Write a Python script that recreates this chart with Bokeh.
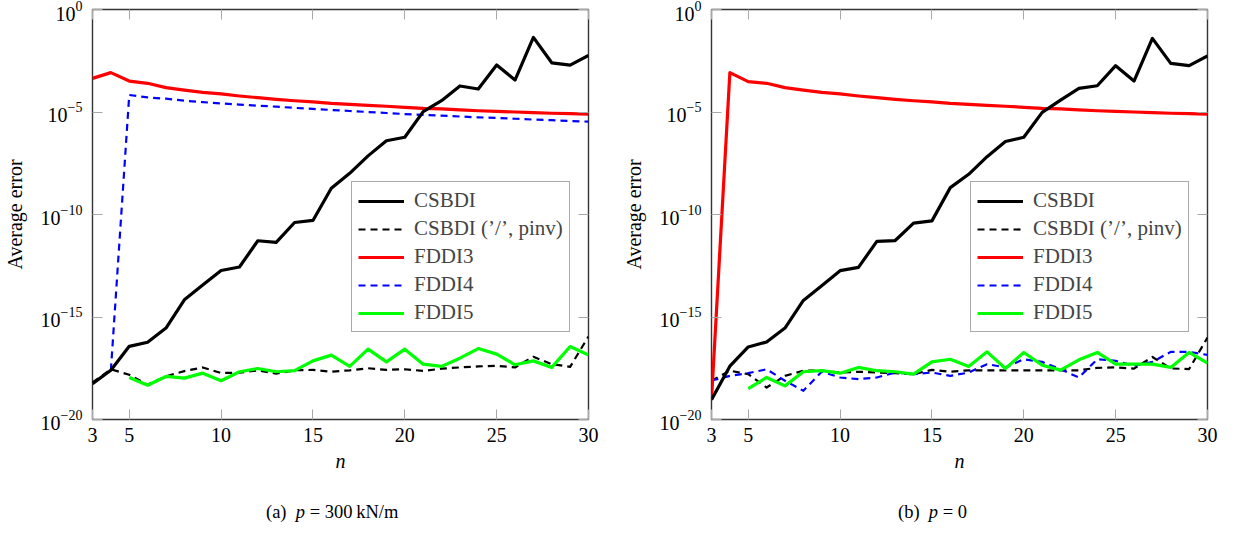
import numpy as np
from bokeh.plotting import figure
from bokeh.layouts import row, column
from bokeh.models import (LinearAxis, LogAxis, FixedTicker, Legend, LegendItem,
                          CustomJSTickFormatter, Range1d, Div)
from bokeh.embed import file_html
from bokeh.resources import INLINE

# ---------------- data (log10 of average error) -------------
n_all = list(range(3, 31))
n_from4 = list(range(4, 31))
n_from5 = list(range(5, 31))
x_ticks = [3, 5, 10, 15, 20, 25, 30]
y_ticks = [1e-20, 1e-15, 1e-10, 1e-5, 1.0]

series_names = ["CSBDI", "CSBDI (\u2019/\u2019, pinv)", "FDDI3", "FDDI4", "FDDI5"]

# (a) p = 300 kN/m
a_csbdi = [-18.25, -17.6, -16.43, -16.23, -15.54, -14.16, -13.44, -12.73, -12.56, -11.28,
           -11.36, -10.39, -10.29, -8.72, -7.99, -7.14, -6.40, -6.23, -4.98, -4.45,
           -3.73, -3.88, -2.71, -3.44, -1.36, -2.60, -2.71, -2.24]
a_csbdi_pinv = [-18.2, -17.55, -17.82, -18.3, -17.89, -17.64, -17.46, -17.73, -17.72, -17.6,
                -17.76, -17.6, -17.58, -17.67, -17.6, -17.5, -17.58, -17.55, -17.63, -17.52,
                -17.46, -17.41, -17.38, -17.46, -16.94, -17.3, -17.43, -15.95]
a_fddi3 = [-3.36, -3.08, -3.49, -3.60, -3.81, -3.93, -4.04, -4.12, -4.22, -4.30,
           -4.38, -4.45, -4.51, -4.58, -4.63, -4.68, -4.72, -4.77, -4.82, -4.85,
           -4.90, -4.94, -4.97, -5.00, -5.03, -5.06, -5.08, -5.11]
a_fddi4 = [-17.6, -4.17, -4.29, -4.35, -4.45, -4.52, -4.58, -4.64, -4.69, -4.74,
           -4.80, -4.85, -4.90, -4.95, -5.00, -5.05, -5.10, -5.14, -5.18, -5.22,
           -5.26, -5.29, -5.33, -5.37, -5.40, -5.44, -5.47]
a_fddi5 = [-17.95, -18.33, -17.90, -17.98, -17.74, -18.11, -17.67, -17.51, -17.67, -17.62,
           -17.14, -16.86, -17.41, -16.57, -17.19, -16.57, -17.30, -17.41, -17.01, -16.54,
           -16.81, -17.33, -17.14, -17.46, -16.44, -16.86]

# (b) p = 0
b_csbdi = [-19.03, -17.4, -16.46, -16.22, -15.54, -14.19, -13.47, -12.74, -12.58, -11.31,
           -11.27, -10.42, -10.31, -8.69, -8.04, -7.18, -6.44, -6.23, -5.02, -4.42,
           -3.85, -3.72, -2.74, -3.49, -1.41, -2.63, -2.74, -2.27]
b_csbdi_pinv = [-18.11, -17.62, -17.79, -18.44, -17.87, -17.62, -17.62, -17.71, -17.67, -17.71,
                -17.74, -17.79, -17.58, -17.67, -17.6, -17.6, -17.6, -17.6, -17.6, -17.6,
                -17.6, -17.48, -17.46, -17.52, -16.95, -17.51, -17.54, -16.0]
b_fddi3 = [-19.03, -3.08, -3.52, -3.60, -3.81, -3.93, -4.04, -4.12, -4.22, -4.30,
           -4.38, -4.45, -4.51, -4.58, -4.63, -4.68, -4.72, -4.77, -4.82, -4.85,
           -4.90, -4.94, -4.97, -5.00, -5.03, -5.06, -5.08, -5.11]
b_fddi4 = [-18.1, -17.87, -17.74, -17.55, -18.11, -18.60, -17.67, -17.95, -18.03, -17.95,
           -17.71, -17.79, -17.71, -17.87, -17.71, -17.30, -17.46, -17.06, -17.19, -17.55,
           -17.95, -17.06, -17.14, -17.38, -17.19, -16.70, -16.70, -16.85]
b_fddi5 = [-18.49, -17.95, -18.36, -17.67, -17.62, -17.74, -17.46, -17.62, -17.67, -17.79,
           -17.19, -17.06, -17.41, -16.70, -17.51, -16.73, -17.35, -17.59, -17.09, -16.73,
           -17.30, -17.30, -17.30, -17.46, -16.73, -17.25]

caption_a = "(a)&nbsp;&nbsp;<i>p</i>&nbsp;=&nbsp;300&thinsp;kN/m"
caption_b = "(b)&nbsp;&nbsp;<i>p</i>&nbsp;=&nbsp;0"

FONT = "Liberation Serif"
TICK_GRAY = "#a8a8a8"


def pw(vals):
    return list(10.0 ** np.array(vals))


def make_fig(width, border_left, border_right, data):
    p = figure(width=width, height=480, x_range=Range1d(3, 30), y_range=Range1d(1e-20, 1.0),
               y_axis_type="log", output_backend="svg", toolbar_location=None,
               min_border_left=border_left, min_border_right=border_right,
               min_border_top=9, min_border_bottom=61)
    p.grid.visible = False
    p.outline_line_color = "#333333"
    p.outline_line_width = 1.4
    p.background_fill_color = "white"
    p.border_fill_color = "white"

    p.xaxis.ticker = FixedTicker(ticks=x_ticks)
    p.yaxis.ticker = FixedTicker(ticks=y_ticks)
    for ax in (p.xaxis[0], p.yaxis[0]):
        ax.axis_line_color = None
        ax.major_tick_in = 10
        ax.major_tick_out = 0
        ax.major_tick_line_color = TICK_GRAY
        ax.minor_tick_line_color = None
        ax.major_label_text_font = FONT
        ax.major_label_text_font_size = "20px"
        ax.major_label_text_color = "black"
        ax.axis_label_text_font = FONT
        ax.axis_label_text_font_size = "20px"
        ax.axis_label_text_color = "black"
    p.xaxis.major_label_standoff = 8
    p.yaxis.major_label_standoff = 10
    p.xaxis.axis_label = "n"
    p.xaxis.axis_label_text_font_style = "italic"
    p.xaxis.axis_label_standoff = 5
    p.yaxis.axis_label = "Average error"
    p.yaxis.axis_label_text_font_style = "normal"
    p.yaxis.axis_label_standoff = 12

    blank = CustomJSTickFormatter(code="return ''")
    top = LinearAxis(ticker=FixedTicker(ticks=x_ticks), formatter=blank,
                     axis_line_color=None, major_tick_in=10, major_tick_out=0,
                     major_tick_line_color=TICK_GRAY, minor_tick_line_color=None)
    right = LogAxis(ticker=FixedTicker(ticks=y_ticks), formatter=blank,
                    axis_line_color=None, major_tick_in=10, major_tick_out=0,
                    major_tick_line_color=TICK_GRAY, minor_tick_line_color=None)
    p.add_layout(top, "above")
    p.add_layout(right, "right")

    styles = [
        dict(color="black", line_width=3.2, line_dash="solid"),
        dict(color="black", line_width=2.2, line_dash="7 5"),
        dict(color="#ff0000", line_width=3.2, line_dash="solid"),
        dict(color="#0000ff", line_width=2.2, line_dash="7 5"),
        dict(color="#00ff00", line_width=3.2, line_dash="solid"),
    ]
    draw_order = [1, 3, 4, 2, 0]
    renderers = {}
    for i in draw_order:
        xs, ys = data[i]
        st = styles[i]
        renderers[i] = p.line(xs, pw(ys), line_color=st["color"], line_width=st["line_width"],
                              line_dash=st["line_dash"], line_join="round")
    legend = Legend(items=[LegendItem(label=series_names[i], renderers=[renderers[i]]) for i in range(5)],
                    location=(259, 87), label_text_font=FONT, label_text_font_size="21px",
                    glyph_width=46, glyph_height=20, label_standoff=10, spacing=3,
                    padding=6, margin=0, border_line_color="#555555", border_line_width=1.2,
                    background_fill_alpha=1.0)
    p.add_layout(legend)
    return p


def caption_div(html, pad_left, width):
    inner = ('<div style="font-family:\'Liberation Serif\',serif;font-size:18.5px;color:black;'
             'line-height:18px;padding-top:23px;padding-left:%dpx;white-space:nowrap;">%s</div>'
             % (pad_left, html))
    return Div(text=inner, width=width, height=39, margin=0)


data_a = [(n_all, a_csbdi), (n_all, a_csbdi_pinv), (n_all, a_fddi3), (n_from4, a_fddi4), (n_from5, a_fddi5)]
data_b = [(n_all, b_csbdi), (n_all, b_csbdi_pinv), (n_all, b_fddi3), (n_all, b_fddi4), (n_from5, b_fddi5)]

pa = make_fig(610, 92, 22, data_a)
pb = make_fig(610, 101, 13, data_b)
da = caption_div(caption_a, 266, 610)
db = caption_div(caption_b, 288, 610)

layout = row(column(pa, da, spacing=0), column(pb, db, spacing=0), spacing=0)
open("out.html", "w").write(file_html(layout, INLINE))
